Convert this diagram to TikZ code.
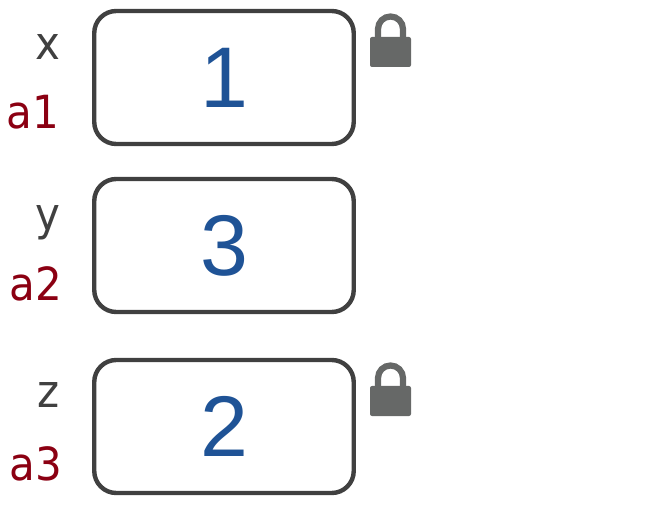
\documentclass[tikz,border=0pt]{standalone}
\usepackage{fontspec}
\usepackage{xcolor}
\setmainfont{DejaVu Sans}
\newfontfamily\labelfont[FakeStretch=0.92]{DejaVu Sans}
\newfontfamily\digitfont{Liberation Sans}
\definecolor{boxgray}{HTML}{404040}
\definecolor{valblue}{HTML}{1F5396}
\definecolor{argred}{HTML}{8B0012}
\definecolor{lockgray}{HTML}{666867}
\tikzset{
    valbox/.style={draw=boxgray,line width=0.044cm,rounded corners=0.22cm,fill=white,
        minimum width=2.595cm,minimum height=1.33cm,inner sep=0pt,outer sep=0pt,
        text=valblue,text height=0.60cm,text depth=0pt,font=\digitfont\fontsize{24.5}{24.5}\selectfont},
    varname/.style={anchor=base east,inner sep=0pt,text=boxgray,font=\labelfont\fontsize{13}{13}\selectfont},
    argname/.style={anchor=base east,inner sep=0pt,text=argred,font=\labelfont\fontsize{13}{13}\selectfont},
    lockbody/.style={fill=lockgray,rounded corners=0.02cm,minimum width=0.41cm,minimum height=0.30cm,inner sep=0pt,outer sep=0pt},
    lockarc/.style={draw=lockgray,line width=0.062cm}
}

\begin{document}
\begin{tikzpicture}
    \useasboundingbox (0,0) rectangle (6.5,5.14);
    \node[valbox] (B1) at (2.24,4.365) {1};
    \node[valbox] (B2) at (2.24,2.685) {3};
    \node[valbox] (B3) at (2.24,0.875) {2};
    \node[varname] (X) at (0.61,4.54) {x};
    \node[argname] (A1) at (0.595,3.855) {a1};
    \node[varname] (Y) at (0.61,2.83) {y};
    \node[argname] (A2) at (0.625,2.13) {a2};
    \node[varname] (Z) at (0.60,1.06) {z};
    \node[argname] (A3) at (0.625,0.34) {a3};
    \node[lockbody] (L1) at (3.905,4.62) {};
    \draw[lockarc] ([xshift=-0.125cm]L1.north)--++(0,0.08) arc (180:0:0.125)--++(0,-0.08);
    \node[lockbody] (L2) at (3.905,1.13) {};
    \draw[lockarc] ([xshift=-0.125cm]L2.north)--++(0,0.08) arc (180:0:0.125)--++(0,-0.08);
\end{tikzpicture}
\end{document}
